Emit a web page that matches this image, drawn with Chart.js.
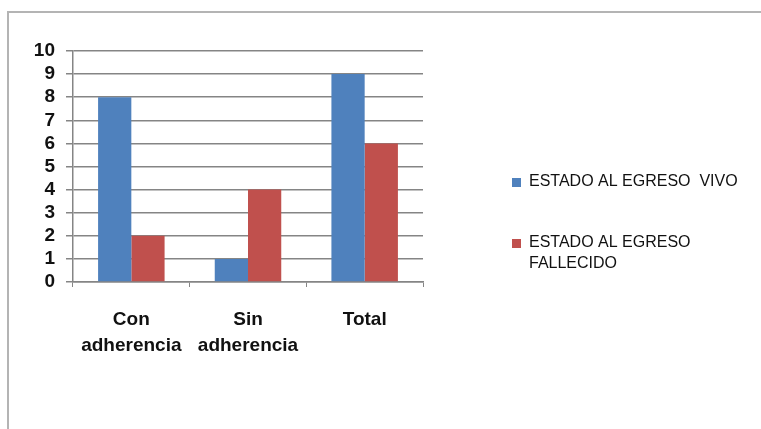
<!DOCTYPE html>
<html>
<head>
<meta charset="utf-8">
<script src="https://cdn.jsdelivr.net/npm/chart.js@4"></script>
<style>
  html, body { margin: 0; padding: 0; background: #fff; }
  #wrap { position: relative; width: 761px; height: 429px; overflow: hidden; }
  #frame {
    position: absolute; left: 7px; top: 11px; width: 800px; height: 500px;
    border-left: 2px solid #b4b4b4; border-top: 2px solid #b4b4b4;
  }
  canvas { position: absolute; left: 0; top: 0; }
</style>
</head>
<body>
<div id="wrap">
  <div id="frame"></div>
  <canvas id="chart" width="761" height="429"></canvas>
</div>
<script>
// categories and series
const categories = [['Con', 'adherencia'], ['Sin', 'adherencia'], 'Total'];
const vivo = [8, 1, 9];
const fallecido = [2, 4, 6];
const seriesNames = [['ESTADO AL EGRESO  VIVO'], ['ESTADO AL EGRESO', 'FALLECIDO']];
const yTicks = [0, 1, 2, 3, 4, 5, 6, 7, 8, 9, 10];

const BLUE = '#4f81bd';
const RED = '#c0504d';
const GRID = '#858585';
const FONT = '"Liberation Sans", Arial, sans-serif';

// legend drawn at the right, with wrapped labels
const sideLegend = {
    id: 'sideLegend',
    afterDraw(chart) {
        const ctx = chart.ctx;
        const rows = [
            { color: BLUE, y: 182, lines: seriesNames[0] },
            { color: RED, y: 243, lines: seriesNames[1] }
        ];
        ctx.save();
        ctx.font = '16px ' + FONT;
        ctx.textBaseline = 'middle';
        rows.forEach(r => {
            ctx.fillStyle = r.color;
            ctx.fillRect(512, r.y - 4, 9, 9);
            ctx.fillStyle = '#111';
            r.lines.forEach((t, i) => ctx.fillText(t, 529, r.y + i * 21));
        });
        ctx.restore();
    }
};

new Chart(document.getElementById('chart'), {
    type: 'bar',
    data: {
        labels: categories,
        datasets: [
            { label: seriesNames[0].join(' '), data: vivo, backgroundColor: BLUE },
            { label: seriesNames[1].join(' '), data: fallecido, backgroundColor: RED }
        ]
    },
    options: {
        responsive: false,
        animation: false,
        layout: { padding: { left: 0, top: 51, right: 338, bottom: 0 } },
        datasets: { bar: { categoryPercentage: 0.57, barPercentage: 1.0 } },
        plugins: {
            legend: { display: false },
            tooltip: { enabled: false }
        },
        scales: {
            x: {
                afterFit: s => { s.height = 147; },
                grid: { drawOnChartArea: false, drawTicks: true, tickLength: 5, color: GRID },
                border: { color: GRID, width: 1.5 },
                ticks: {
                    color: '#111',
                    padding: 20,
                    autoSkip: false,
                    maxRotation: 0,
                    font: { family: FONT, size: 19, weight: 'bold', lineHeight: 1.37 }
                }
            },
            y: {
                min: 0,
                max: 10,
                afterFit: s => { s.width = 73; },
                afterBuildTicks: s => { s.ticks = yTicks.map(v => ({ value: v })); },
                grid: { color: GRID, lineWidth: 1.5, tickLength: 7 },
                border: { color: GRID, width: 1.5 },
                ticks: {
                    color: '#111',
                    padding: 11,
                    autoSkip: false,
                    font: { family: FONT, size: 19, weight: 'bold' }
                }
            }
        }
    },
    plugins: [sideLegend]
});
</script>
</body>
</html>
